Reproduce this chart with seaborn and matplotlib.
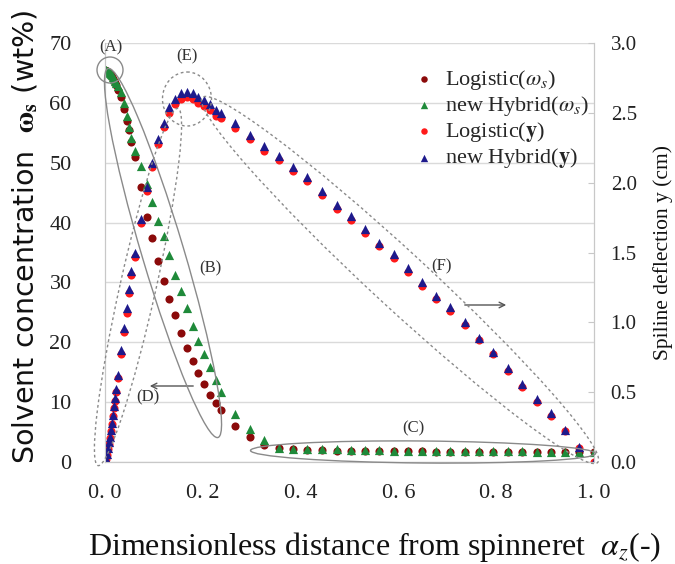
import numpy as np
import pandas as pd
import matplotlib
matplotlib.use("Agg")
from matplotlib import pyplot as plt
from matplotlib import transforms
from matplotlib.patches import Ellipse
import seaborn as sns

sns.set_style("white")
plt.rcParams['font.family'] = ['Liberation Serif', 'DejaVu Serif']
plt.rcParams['mathtext.fontset'] = 'stix'

# dimensionless distance from spinneret (shared by all four series)
alpha_z = [0.000, 0.002, 0.004, 0.006, 0.008, 0.010, 0.012, 0.014, 0.016, 0.018,
           0.020, 0.023, 0.027, 0.033, 0.039, 0.045, 0.049, 0.053, 0.061, 0.074,
           0.086, 0.096, 0.108, 0.121, 0.131, 0.143, 0.155, 0.168, 0.180, 0.190,
           0.202, 0.215, 0.227, 0.237,
           0.266, 0.297, 0.325, 0.356, 0.384, 0.413, 0.444, 0.474, 0.503, 0.532,
           0.560, 0.591, 0.620, 0.648, 0.677, 0.706, 0.736, 0.765, 0.793, 0.824,
           0.853, 0.883, 0.912, 0.941, 0.969, 1.000]

# solvent concentration (wt%)
omega_logistic = [65.5, 65.4, 65.3, 65.2, 65.0, 64.8, 64.6, 64.3, 64.0, 63.7,
                  63.4, 62.9, 62.2, 61.0, 59.0, 57.0, 55.5, 53.5, 51.0, 46.0,
                  41.0, 37.5, 33.5, 30.2, 27.2, 24.5, 21.5, 19.0, 16.8, 14.8,
                  13.0, 11.2, 9.8, 8.7,
                  6.0, 4.2, 2.8, 2.3, 2.1, 2.0, 2.0, 1.9, 1.9, 1.9,
                  1.8, 1.8, 1.8, 1.8, 1.7, 1.7, 1.7, 1.7, 1.7, 1.6,
                  1.6, 1.6, 1.6, 1.6, 1.6, 1.6]
omega_hybrid = [65.5, 65.5, 65.4, 65.3, 65.2, 65.0, 64.8, 64.6, 64.3, 64.0,
                63.7, 63.3, 62.8, 61.8, 60.0, 57.8, 56.0, 54.2, 52.0, 49.5,
                46.5, 43.5, 40.3, 37.7, 34.5, 31.3, 28.5, 25.7, 22.8, 20.2,
                18.0, 15.8, 13.7, 11.7,
                8.0, 5.5, 3.7, 2.4, 2.2, 2.2, 2.1, 2.1, 2.0, 2.0,
                2.0, 1.9, 1.9, 1.9, 1.9, 1.8, 1.8, 1.8, 1.8, 1.8,
                1.8, 1.7, 1.7, 1.7, 1.7, 1.7]

# spinline deflection (cm)
y_logistic = [0.00, 0.02, 0.05, 0.09, 0.13, 0.17, 0.22, 0.27, 0.33, 0.39,
              0.44, 0.50, 0.60, 0.77, 0.93, 1.07, 1.21, 1.34, 1.47, 1.71,
              1.94, 2.11, 2.28, 2.40, 2.50, 2.56, 2.60, 2.61, 2.60, 2.57,
              2.55, 2.52, 2.48, 2.46,
              2.39, 2.31, 2.23, 2.16, 2.08, 2.01, 1.91, 1.81, 1.73, 1.64,
              1.55, 1.46, 1.36, 1.26, 1.17, 1.08, 0.98, 0.87, 0.77, 0.65,
              0.54, 0.43, 0.33, 0.22, 0.10, 0.00]
y_hybrid = [0.00, 0.02, 0.06, 0.10, 0.14, 0.18, 0.23, 0.28, 0.34, 0.40,
            0.46, 0.52, 0.62, 0.80, 0.96, 1.10, 1.24, 1.37, 1.50, 1.74,
            1.97, 2.14, 2.31, 2.43, 2.54, 2.60, 2.64, 2.65, 2.64, 2.61,
            2.59, 2.56, 2.52, 2.50,
            2.43, 2.34, 2.26, 2.19, 2.11, 2.04, 1.94, 1.84, 1.76, 1.67,
            1.57, 1.49, 1.39, 1.29, 1.19, 1.11, 1.00, 0.89, 0.79, 0.67,
            0.56, 0.45, 0.35, 0.23, 0.11, 0.00]

x_ticks = [0.0, 0.2, 0.4, 0.6, 0.8, 1.0]
x_ticklabels = ["0. 0", "0. 2", "0. 4", "0. 6", "0. 8", "1. 0"]

df = pd.DataFrame({"alpha": alpha_z, "wL": omega_logistic, "wH": omega_hybrid,
                   "yL": y_logistic, "yH": y_hybrid})

W, H = 675, 564
fig = plt.figure(figsize=(W / 100, H / 100), dpi=100)
ax = fig.add_axes([105 / W, 1 - 462 / H, 489 / W, 419 / H])
ax2 = ax.twinx()

sns.scatterplot(data=df, x="alpha", y="wL", ax=ax, marker="o", color="#8B0A0A",
                s=34, linewidth=0, label=r"Logistic($\omega_s$)", legend=False)
sns.scatterplot(data=df, x="alpha", y="wH", ax=ax, marker="^", color="#1F8A3A",
                s=44, linewidth=0, label=r"new Hybrid($\omega_s$)", legend=False)
sns.scatterplot(data=df, x="alpha", y="yL", ax=ax2, marker="o", color="#FF1A1A",
                s=34, linewidth=0, label=r"Logistic($\mathbf{y}$)", legend=False)
sns.scatterplot(data=df, x="alpha", y="yH", ax=ax2, marker="^", color="#1E1A8C",
                s=44, linewidth=0, label=r"new Hybrid($\mathbf{y}$)", legend=False)

grey = "#C8C8C8"
ax.set_xlim(0, 1.0)
ax.set_ylim(0, 70)
ax2.set_ylim(0, 3.0)
ax.set_yticks(range(0, 71, 10))
ax2.set_yticks(np.arange(0, 3.01, 0.5))
ax2.set_yticklabels([f"{v:.1f}" for v in np.arange(0, 3.01, 0.5)])
ax.set_xticks(x_ticks)
ax.set_xticklabels(x_ticklabels)
ax.yaxis.grid(True, color="#DADADA", lw=1)
ax.set_axisbelow(True)
for a in (ax, ax2):
    a.spines["top"].set_visible(False)
    for s in ("left", "bottom", "right"):
        a.spines[s].set_color(grey)
ax.tick_params(axis="y", length=0, pad=24, labelsize=16, colors="#222222")
ax.tick_params(axis="x", direction="in", length=4, color=grey, pad=16,
               labelsize=16, labelcolor="#222222")
ax2.tick_params(axis="y", direction="in", length=4, color=grey, pad=12,
                labelsize=15, labelcolor="#222222")

ax.set_xlabel(r"Dimensionless distance from spinneret  $\alpha_z$(-)",
              fontsize=23, color="#111111")
ax.xaxis.set_label_coords(0.552, -0.163)
ax.set_ylabel(r"Solvent concentration  $\mathbf{\omega}_\mathbf{s}$ (wt%)",
              fontsize=20.5, family="DejaVu Sans", color="#111111")
ax.yaxis.set_label_coords(-0.133, 0.537)
ax2.set_ylabel("Spiline deflection y (cm)", fontsize=15.5, labelpad=12, color="#111111")

h1, l1 = ax.get_legend_handles_labels()
h2, l2 = ax2.get_legend_handles_labels()
ax2.legend(h1 + h2, l1 + l2, loc="upper left", bbox_to_anchor=(0.612, 0.962),
           frameon=False, fontsize=16, handlelength=1.0, handletextpad=0.45,
           labelspacing=0.1, markerscale=0.8, borderaxespad=0)

# pixel coordinates of the figure (origin top-left)
px = transforms.Affine2D().scale(1 / W, -1 / H).translate(0, 1) + fig.transFigure
ring = "#8A8A8A"
dots = (0, (2, 2))
shapes = [
    ((110, 70), 26, 26, 0, "-"),        # A
    ((187, 99), 49, 54, 0, dots),       # E
    ((163, 253), 385, 42, 73.4, "-"),   # B
    ((138, 287), 366, 36, -77.4, dots),  # D
    ((423, 452), 345, 22, 0.5, "-"),    # C
    ((400, 280), 538, 56, 42.7, dots),  # F
]
for c, w, h, ang, ls in shapes:
    fig.add_artist(Ellipse(c, w, h, angle=ang, transform=px, fill=False,
                           ec=ring, lw=1, ls=ls))

for name, (tx, ty) in {"(A)": (111, 47), "(E)": (187, 56), "(B)": (210, 268),
                       "(C)": (413, 428), "(D)": (148, 397), "(F)": (441, 266)}.items():
    fig.text(tx, ty, name, transform=px, ha="center", va="center",
             fontsize=12, color="#333333")

ax2.annotate("", xy=(147, 386), xytext=(196, 386), xycoords=px, textcoords=px,
             arrowprops=dict(arrowstyle="->", color="#555555", lw=1))
ax2.annotate("", xy=(509, 305), xytext=(462, 305), xycoords=px, textcoords=px,
             arrowprops=dict(arrowstyle="->", color="#555555", lw=1))

fig.savefig("out.png", dpi=100)
